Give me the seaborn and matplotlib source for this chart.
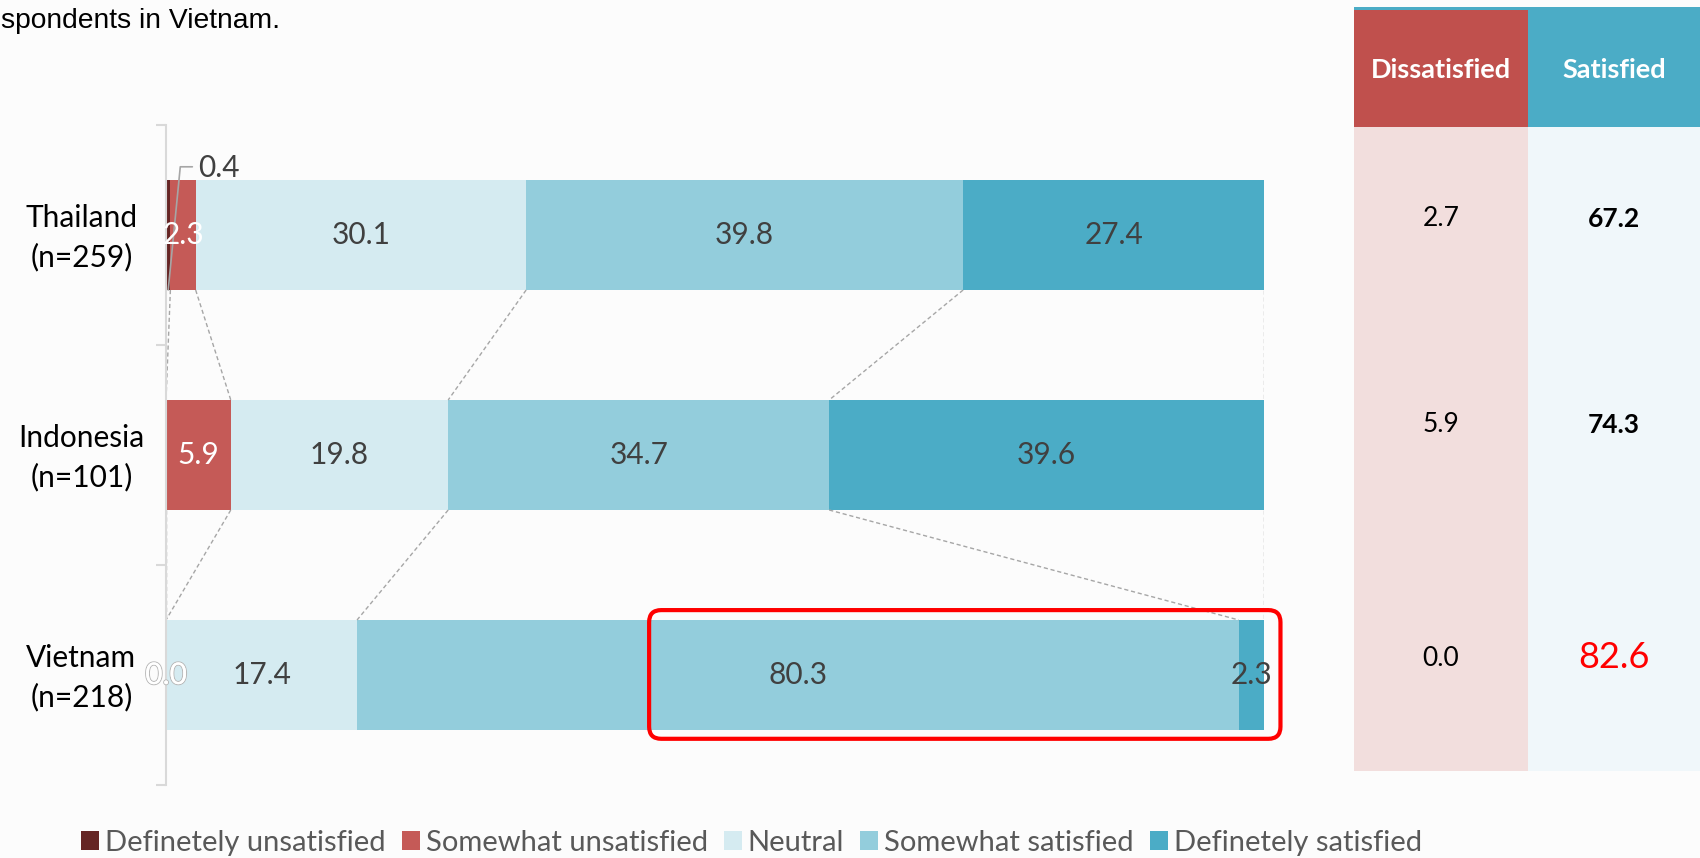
import numpy as np
import pandas as pd
import seaborn as sns
import matplotlib.pyplot as plt
from matplotlib import transforms
from matplotlib.patches import Patch, Rectangle, FancyBboxPatch
from matplotlib import patheffects as pe

# ---- data -------------------------------------------------------------
countries = ["Thailand\n(n=259)", "Indonesia\n(n=101)", "Vietnam\n(n=218)"]
levels = ["Definetely unsatisfied", "Somewhat unsatisfied", "Neutral",
          "Somewhat satisfied", "Definetely satisfied"]
def_unsat = [0.4, 0.0, 0.0]
some_unsat = [2.3, 5.9, 0.0]
neutral = [30.1, 19.8, 17.4]
some_sat = [39.8, 34.7, 80.3]
def_sat = [27.4, 39.6, 2.3]

table_dissatisfied = [2.7, 5.9, 0.0]
table_satisfied = [67.2, 74.3, 82.6]

colors = ["#652524", "#C55A57", "#D5EBF1", "#93CDDC", "#4BACC6"]
label_colors = ["#FFFFFF", "#FFFFFF", "#404040", "#404040", "#404040"]

W, H = 1700, 858
sns.set_theme(style="white")
plt.rcParams["font.family"] = ["Lato", "DejaVu Sans"]

fig = plt.figure(figsize=(W / 100, H / 100), dpi=100, facecolor="#FCFCFC")
ax = fig.add_axes([166 / W, 1 - 785 / H, 1098 / W, 660 / H])
ax.set_facecolor("#FCFCFC")

series = np.array([def_unsat, some_unsat, neutral, some_sat, def_sat])
cum = np.cumsum(series, axis=0)
starts = cum - series

df = pd.DataFrame({"country": countries})
for i in range(len(levels)):
    df[levels[i]] = cum[i]

# stacked bars: draw cumulative totals from the widest to the narrowest
bar_h = 0.5
for i in reversed(range(len(levels))):
    sns.barplot(data=df, x=levels[i], y="country", orient="h", color=colors[i],
                saturation=1, width=bar_h, ax=ax, linewidth=0)

ax.set_xlim(0, 100)
ax.set_ylim(2.5, -0.5)
ax.set_xlabel("")
ax.set_ylabel("")
ax.set_xticks([])
for s in ["top", "right", "bottom"]:
    ax.spines[s].set_visible(False)
ax.spines["left"].set_color("#D9D9D9")
ax.spines["left"].set_linewidth(1.5)
ax.set_yticks(range(len(countries)))
ax.set_yticklabels(countries, fontsize=21.5, color="#000000", linespacing=1.45)
ax.set_yticks([-0.5, 0.5, 1.5, 2.5], minor=True)
ax.tick_params(axis="y", which="major", length=0, pad=30)
ax.tick_params(axis="y", which="minor", length=7, width=1.5, color="#D9D9D9", left=True)
# center the two-line labels around a common column
for lbl in ax.get_yticklabels():
    lbl.set_horizontalalignment("center")
    lbl.set_transform(lbl.get_transform() +
                      transforms.ScaledTranslation(-0.43, 0.05, fig.dpi_scale_trans))

# series lines between neighbouring bars
for r in range(len(countries) - 1):
    for k in range(len(levels)):
        x0, x1 = cum[k, r], cum[k, r + 1]
        ax.plot([x0, x1], [r + bar_h / 2, r + 1 - bar_h / 2], ls=(0, (3, 2)),
                color="#A6A6A6", lw=1, zorder=1)

# value labels
lab_fs = 21.5
for r in range(len(countries)):
    for k in range(len(levels)):
        v = series[k, r]
        cx = starts[k, r] + v / 2
        if r == 0 and k == 0:
            # small slice: label placed above with a leader line
            ax.plot([cx, cx + 1.1, cx + 2.2], [r + bar_h / 2, r - 0.31, r - 0.31],
                    color="#A6A6A6", lw=1.2, zorder=4)
            ax.text(cx + 2.7, r - 0.305, f"{v:.1f}", ha="left", va="center",
                    fontsize=lab_fs, color="#404040", zorder=5)
            continue
        if v == 0 and not (r == 2 and k == 1):
            continue
        if r == 2 and k == 1:
            ax.text(cx, r, f"{v:.1f}", ha="center", va="center", fontsize=lab_fs,
                    color="#FFFFFF", zorder=5,
                    path_effects=[pe.withStroke(linewidth=1.5, foreground="#B8B8B8"),
                                  pe.Normal()])
            continue
        ax.text(cx, r, f"{v:.1f}", ha="center", va="center", fontsize=lab_fs,
                color=label_colors[k], zorder=5)

# highlight box around Vietnam's satisfied share
vr = 2
box = FancyBboxPatch((44.0, vr - 0.295), 57.5, 0.585,
                     boxstyle="round,pad=0,rounding_size=1.1",
                     mutation_aspect=10.98 / 220, fill=False, ec="#FF0000",
                     lw=3, zorder=6, clip_on=False)
ax.add_patch(box)

# ---- summary table on the right --------------------------------------
def fx(px):
    return px / W

def fy(py):
    return 1 - py / H

col_l = [1354, 1528]
col_r = [1528, 1700]
head_c = ["#C0504D", "#4BACC6"]
body_c = ["#F2DEDD", "#F0F7FA"]
fig.patches.append(Rectangle((fx(1354), fy(10)), fx(346), 3 / H,
                             transform=fig.transFigure, color="#4BACC6", lw=0))
for j in range(2):
    fig.patches.append(Rectangle((fx(col_l[j]), fy(127)), fx(col_r[j] - col_l[j]),
                                 117 / H, transform=fig.transFigure,
                                 color=head_c[j], lw=0))
    fig.patches.append(Rectangle((fx(col_l[j]), fy(771)), fx(col_r[j] - col_l[j]),
                                 644 / H, transform=fig.transFigure,
                                 color=body_c[j], lw=0))
fig.text(fx(1441), fy(70), "Dissatisfied", ha="center", va="center",
         fontsize=19.5, fontweight="bold", color="white")
fig.text(fx(1614), fy(70), "Satisfied", ha="center", va="center",
         fontsize=19.5, fontweight="bold", color="white")

row_y = [219, 425, 658]
for r in range(len(countries)):
    fig.text(fx(1441), fy(row_y[r]), f"{table_dissatisfied[r]:.1f}", ha="center",
             va="center", fontsize=19, color="black")
    if r < 2:
        fig.text(fx(1614), fy(row_y[r]), f"{table_satisfied[r]:.1f}", ha="center",
                 va="center", fontsize=19, fontweight="bold", color="black")
    else:
        fig.text(fx(1614), fy(row_y[r]), f"{table_satisfied[r]:.1f}", ha="center",
                 va="center", fontsize=26, color="#FF0000")

# note text at the top left
fig.text(fx(1), fy(28), "spondents in Vietnam.", ha="left", va="baseline",
         fontsize=20.3, color="#000000", family=["Liberation Sans", "DejaVu Sans"])

# legend
handles = [Patch(facecolor=c, edgecolor="none") for c in colors]
fig.legend(handles, levels, loc="center left", bbox_to_anchor=(fx(81), fy(843)),
           ncol=5, frameon=False, fontsize=21, handlelength=0.62, handleheight=0.62,
           handletextpad=0.2, columnspacing=0.55, borderpad=0, borderaxespad=0,
           labelcolor="#595959")

fig.savefig("out.png", dpi=100, facecolor=fig.get_facecolor())
